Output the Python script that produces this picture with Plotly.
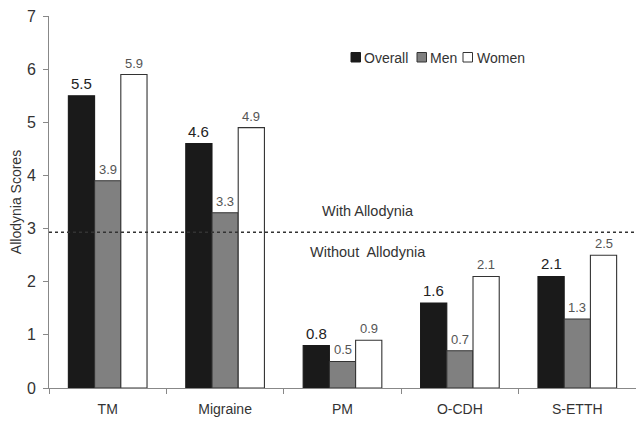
import plotly.graph_objects as go

categories = ["TM", "Migraine", "PM", "O-CDH", "S-ETTH"]
overall = [5.5, 4.6, 0.8, 1.6, 2.1]
men = [3.9, 3.3, 0.5, 0.7, 1.3]
women = [5.9, 4.9, 0.9, 2.1, 2.5]
threshold = 2.93
y_ticks = [0, 1, 2, 3, 4, 5, 6, 7]
series_names = ["Overall", "Men", "Women"]

FONT = "Liberation Sans, Arial, sans-serif"
colors = ["#1a1a1a", "#808080", "#ffffff"]
edges = ["#1a1a1a", "#333333", "#333333"]
label_sizes = [15, 13, 13]
label_colors = ["#222222", "#555555", "#555555"]

BARGAP = 0.33
bar_w = (1 - BARGAP) / 3

fig = go.Figure()
for k, (name, vals) in enumerate(zip(series_names, [overall, men, women])):
    fig.add_trace(go.Bar(
        name=name, x=categories, y=vals,
        marker=dict(color=colors[k], line=dict(color=edges[k], width=1.1)),
        showlegend=False,
    ))
    for i, v in enumerate(vals):
        fig.add_annotation(
            x=i + (k - 1) * bar_w, y=v, xref="x", yref="y",
            text=f"{v:.1f}", showarrow=False, yanchor="bottom", yshift=2,
            font=dict(size=label_sizes[k], color=label_colors[k], family=FONT),
        )

# threshold line and region labels
fig.add_shape(type="line", xref="paper", yref="y", x0=0, x1=1, y0=threshold, y1=threshold,
              line=dict(color="#333333", width=1.5, dash="dot"))
fig.add_annotation(text="With Allodynia", xref="paper", yref="y", x=0.4617, y=3.33,
                   xanchor="left", showarrow=False, font=dict(size=14.5, color="#333333", family=FONT))
fig.add_annotation(text="Without  Allodynia", xref="paper", yref="y", x=0.441, y=2.56,
                   xanchor="left", showarrow=False, font=dict(size=14.5, color="#333333", family=FONT))

# custom compact legend (paper coordinates of plot area)
def px(x):
    return (x - 49) / 587

def py(y):
    return (388 - y) / 372

legend_items = [(351, 362), (417, 428), (463, 475)]
for k, (sx, tx) in enumerate(legend_items):
    fig.add_shape(type="rect", xref="paper", yref="paper",
                  x0=px(sx), x1=px(sx + 9.5), y0=py(62), y1=py(52.5),
                  fillcolor=colors[k], line=dict(color=edges[k] if k else "#1a1a1a", width=1))
    fig.add_annotation(text=series_names[k], xref="paper", yref="paper", x=px(tx), y=py(57.5),
                       xanchor="left", yanchor="middle", showarrow=False,
                       font=dict(size=14, color="#333333", family=FONT))

fig.update_layout(
    width=636, height=419,
    margin=dict(l=41, r=8, t=8, b=39),
    paper_bgcolor="white", plot_bgcolor="white",
    barmode="group", bargap=BARGAP, bargroupgap=0,
    font=dict(family=FONT, color="#333333"),
    showlegend=False,
    xaxis=dict(showline=True, linecolor="#888888", linewidth=1, ticks="outside",
               tickson="boundaries", ticklen=5, tickcolor="#888888",
               ticklabelstandoff=8, automargin=False,
               tickfont=dict(size=14, color="#333333"), showgrid=False),
    yaxis=dict(range=[0, 7.002], tickvals=y_ticks, showline=True, linecolor="#888888", linewidth=1,
               ticks="outside", ticklen=5, tickcolor="#888888", showgrid=False, zeroline=False,
               ticklabelstandoff=4, ticklabeloverflow="allow", automargin=False,
               tickfont=dict(size=16, color="#333333"),
               title=dict(text="Allodynia Scores", font=dict(size=14, color="#333333"), standoff=2)),
)

fig.write_html("out.html")
